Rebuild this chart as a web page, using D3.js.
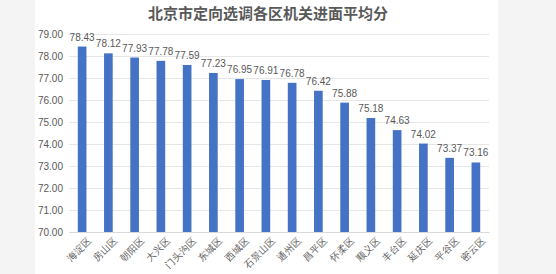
<!DOCTYPE html>
<html>
<head>
<meta charset="utf-8">
<script src="https://cdn.jsdelivr.net/npm/d3@7"></script>
<style>
  body { margin: 0; background: #f4f4f4; }
  svg { display: block; font-family: "Noto Sans CJK SC", "Liberation Sans", sans-serif; }
</style>
</head>
<body>
<div id="chart"></div>
<script>
// Data
const districts = ["海淀区", "房山区", "朝阳区", "大兴区", "门头沟区", "东城区", "西城区", "石景山区",
    "通州区", "昌平区", "怀柔区", "顺义区", "丰台区", "延庆区", "平谷区", "密云区"];
const scores = [78.43, 78.12, 77.93, 77.78, 77.59, 77.23, 76.95, 76.91,
    76.78, 76.42, 75.88, 75.18, 74.63, 74.02, 73.37, 73.16];
const yTicks = [70, 71, 72, 73, 74, 75, 76, 77, 78, 79];

const viewW = 556, viewH = 274;
const margin = { top: 34, right: 67, bottom: 42, left: 69 };
const width = viewW - margin.left - margin.right;
const height = viewH - margin.top - margin.bottom;

const root = d3.select("#chart").append("svg")
    .attr("width", viewW)
    .attr("height", viewH);

// white panel
root.append("rect")
    .attr("x", 35).attr("y", 0)
    .attr("width", 463).attr("height", viewH)
    .attr("fill", "#ffffff");

// title
root.append("text")
    .attr("x", 268)
    .attr("y", 19)
    .attr("text-anchor", "middle")
    .style("font-size", "15px")
    .style("font-weight", "bold")
    .attr("fill", "#595959")
    .text("北京市定向选调各区机关进面平均分");

const svg = root.append("g")
    .attr("transform", `translate(${margin.left},${margin.top})`);

const x = d3.scaleBand().domain(districts).range([0, width]).paddingInner(0.67).paddingOuter(0.335);
const y = d3.scaleLinear().domain([70, 79]).range([height, 0]);

// gridlines + y labels
const yAxis = svg.append("g")
    .call(d3.axisLeft(y).tickValues(yTicks).tickSize(-width).tickFormat(d3.format(".2f")));
yAxis.select(".domain").remove();
yAxis.selectAll(".tick line").attr("stroke", "#e6e6e6").attr("stroke-width", 1);
yAxis.selectAll(".tick text")
    .attr("x", -6)
    .attr("fill", "#595959")
    .style("font-family", "'Liberation Sans', sans-serif")
    .style("font-size", "10px");

// bars
svg.selectAll("rect.bar")
    .data(scores)
    .join("rect")
    .attr("class", "bar")
    .attr("x", (d, i) => x(districts[i]))
    .attr("y", d => y(d))
    .attr("width", x.bandwidth())
    .attr("height", d => height - y(d))
    .attr("fill", "#4472c4");

// value labels
svg.selectAll("text.val")
    .data(scores)
    .join("text")
    .attr("class", "val")
    .attr("x", (d, i) => x(districts[i]) + x.bandwidth() / 2)
    .attr("y", d => y(d) - 6)
    .attr("text-anchor", "middle")
    .attr("fill", "#595959")
    .style("font-family", "'Liberation Sans', sans-serif")
    .style("font-size", "10px")
    .text(d => d.toFixed(2));

// x axis
const xAxis = svg.append("g")
    .attr("transform", `translate(0,${height})`)
    .call(d3.axisBottom(x).tickSize(0));
xAxis.select(".domain").attr("stroke", "#d9d9d9");
xAxis.selectAll(".tick text")
    .attr("fill", "#595959")
    .style("font-size", "9.5px")
    .attr("text-anchor", "end")
    .attr("dx", "0.1em")
    .attr("dy", "1.1em")
    .attr("transform", "rotate(-45)");
</script>
</body>
</html>
